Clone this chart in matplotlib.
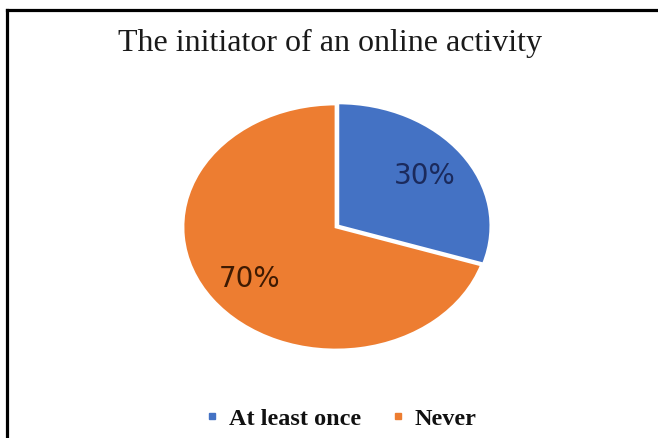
import matplotlib
matplotlib.use('Agg')
import matplotlib.pyplot as plt
from matplotlib.lines import Line2D

# 数据
labels = ['At least once', 'Never']
shares = [30, 70]
colors = ['#4472C4', '#ED7D31']
label_colors = ['#1b2a5c', '#3e1a02']

W, H = 658, 439
fig = plt.figure(figsize=(W / 100, H / 100), dpi=100)
fig.patch.set_facecolor('white')

# 饼图区域（椭圆形）
cx, cy, rx, ry = 336, 228, 153, 123
ax = fig.add_axes([(cx - rx) / W, (H - cy - ry) / H, 2 * rx / W, 2 * ry / H])
wedges, texts, autotexts = ax.pie(
    shares, colors=colors, startangle=90, counterclock=False,
    explode=[0.015, 0], radius=1,
    autopct='%d%%', pctdistance=0.7,
    wedgeprops=dict(edgecolor='white', linewidth=2),
    textprops=dict(fontsize=20, family='DejaVu Sans'))
for t, c in zip(autotexts, label_colors):
    t.set_color(c)
ax.set_aspect('auto')
ax.set_xlim(-1, 1)
ax.set_ylim(-1, 1)
ax.axis('off')

# 标题
fig.text(330 / W, 1 - 43 / H, 'The initiator of an online activity',
         ha='center', va='center', fontsize=23, family='Liberation Serif',
         color='#1a1a1a')

# 图例
handles = [Line2D([], [], marker='s', linestyle='none', markersize=5,
                  markerfacecolor=c, markeredgecolor=c) for c in colors]
leg = fig.legend(handles, labels, loc='center', bbox_to_anchor=(341 / W, 1 - 419 / H),
                 ncol=2, frameon=False, handlelength=0.6, handletextpad=0.4,
                 columnspacing=1.2,
                 prop=dict(family='Liberation Serif', weight='bold', size=17.5))
for t in leg.get_texts():
    t.set_color('#111111')

# 外框（只有上边和左边）
fig.add_artist(Line2D([7 / W, 1], [1 - 11 / H, 1 - 11 / H], color='black',
                      linewidth=2.3, transform=fig.transFigure))
fig.add_artist(Line2D([7 / W, 7 / W], [1 - 11 / H, 0], color='black',
                      linewidth=2.3, transform=fig.transFigure))

fig.savefig('out.png', dpi=100)
